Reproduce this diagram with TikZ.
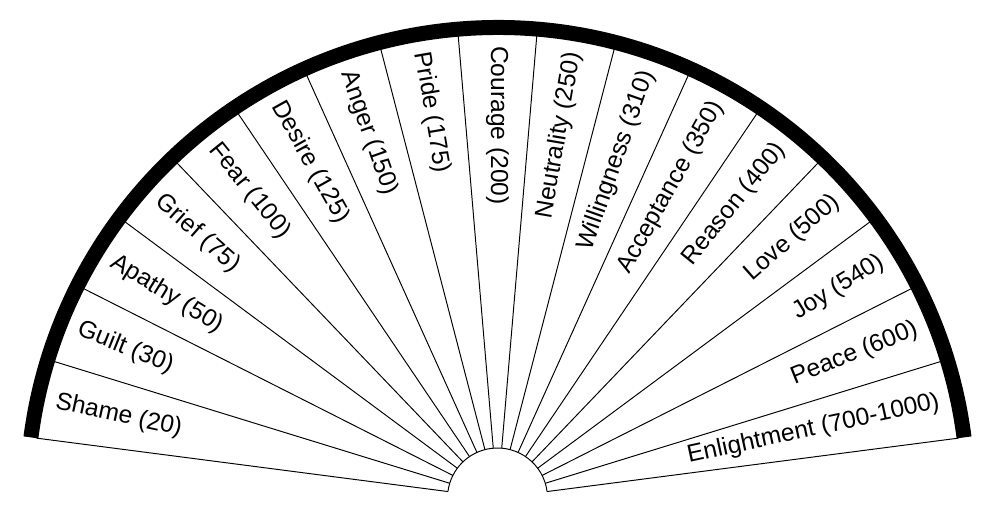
\documentclass[tikz,border=0pt]{standalone}
\usepackage{fontspec}
\setmainfont{Liberation Sans}
\usepackage{tikz}
\usetikzlibrary{positioning}

\begin{document}
\begin{tikzpicture}[
  ray/.style={draw=black, line width=0.55pt},
  rim/.style={draw=black, line width=0.3cm},
  lvlR/.style={anchor=east, inner sep=1pt, font=\fontsize{14}{16}\selectfont},
  lvlL/.style={anchor=west, inner sep=1pt, font=\fontsize{14}{16}\selectfont}
]
\useasboundingbox (-9.95,-0.26) rectangle (9.97,9.96);

% Centre of the fan
\coordinate (c) at (0,0);

% Rays between the levels
\foreach \k in {0,...,17}{
  \pgfmathsetmacro{\ang}{7.4+\k*9.7176}
  \draw[ray] (\ang:1) -- (\ang:9.3);
}

% Inner and outer arcs
\draw[ray] (7.4:1) arc[start angle=7.4, end angle=172.6, radius=1];
\draw[rim] (7.4:9.41) arc[start angle=7.4, end angle=172.6, radius=9.41];

% Right half (reading outwards)
\node[lvlR, rotate=12.26] (enl)  at (12.26:9.08) {Enlightment (700-1000)};
\node[lvlR, rotate=21.98] (pea)  at (21.98:9.08) {Peace (600)};
\node[lvlR, rotate=31.69] (joy)  at (31.69:9.08) {Joy (540)};
\node[lvlR, rotate=41.41] (lov)  at (41.41:9.08) {Love (500)};
\node[lvlR, rotate=51.13] (rea)  at (51.13:9.08) {Reason (400)};
\node[lvlR, rotate=60.85] (acc)  at (60.85:9.08) {Acceptance (350)};
\node[lvlR, rotate=70.57] (wil)  at (70.57:9.08) {Willingness (310)};
\node[lvlR, rotate=80.28] (neu)  at (80.28:9.08) {Neutrality (250)};

% Left half (reading inwards)
\node[lvlL, rotate=-90.00] (cou) at (90.00:9.08)  {Courage (200)};
\node[lvlL, rotate=-80.28] (pri) at (99.72:9.08)  {Pride (175)};
\node[lvlL, rotate=-70.57] (ang) at (109.43:9.08) {Anger (150)};
\node[lvlL, rotate=-60.85] (des) at (119.15:9.08) {Desire (125)};
\node[lvlL, rotate=-51.13] (fea) at (128.87:9.08) {Fear (100)};
\node[lvlL, rotate=-41.41] (gri) at (138.59:9.08) {Grief (75)};
\node[lvlL, rotate=-31.69] (apa) at (148.31:9.08) {Apathy (50)};
\node[lvlL, rotate=-21.98] (gui) at (158.02:9.08) {Guilt (30)};
\node[lvlL, rotate=-12.26] (sha) at (167.74:9.08) {Shame (20)};

\end{tikzpicture}
\end{document}
